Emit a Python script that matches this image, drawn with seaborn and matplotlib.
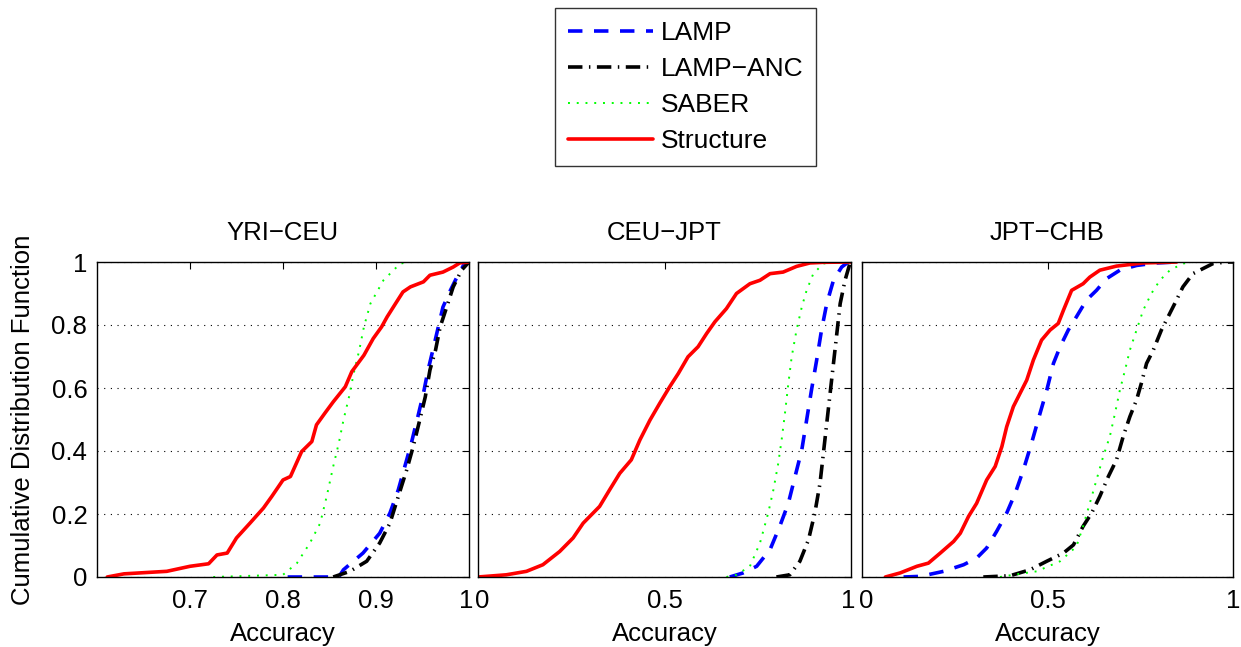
import matplotlib
matplotlib.use("Agg")
import matplotlib.pyplot as plt
import matplotlib.transforms as mtrans
import seaborn as sns
import pandas as pd
from matplotlib.lines import Line2D

# ---------------- data ----------------
panel_titles = ["YRI\u2212CEU", "CEU\u2212JPT", "JPT\u2212CHB"]
methods = ["LAMP", "LAMP\u2212ANC", "SABER", "Structure"]

# Panel 1: YRI-CEU
p1_lamp_x = [0.805, 0.86, 0.865, 0.886, 0.904, 0.915, 0.924, 0.931, 0.938, 0.945, 0.951, 0.956, 0.962, 0.967, 0.972, 0.980, 0.987, 0.994, 1.0]
p1_lamp_y = [0.0, 0.0, 0.023, 0.076, 0.139, 0.203, 0.277, 0.351, 0.425, 0.509, 0.583, 0.657, 0.731, 0.794, 0.857, 0.910, 0.952, 0.989, 1.0]
p1_anc_x = [0.854, 0.872, 0.890, 0.904, 0.915, 0.924, 0.933, 0.940, 0.947, 0.953, 0.958, 0.964, 0.969, 0.976, 0.983, 0.992, 1.0]
p1_anc_y = [0.0, 0.018, 0.050, 0.108, 0.171, 0.256, 0.340, 0.414, 0.498, 0.572, 0.657, 0.720, 0.794, 0.857, 0.921, 0.974, 1.0]
p1_saber_x = [0.725, 0.800, 0.815, 0.829, 0.840, 0.847, 0.854, 0.860, 0.865, 0.871, 0.876, 0.882, 0.887, 0.894, 0.908, 0.926, 0.937, 0.96]
p1_saber_y = [0.0, 0.007, 0.044, 0.108, 0.171, 0.256, 0.351, 0.425, 0.498, 0.572, 0.646, 0.720, 0.794, 0.868, 0.942, 0.995, 1.0, 1.0]
p1_struct_x = [0.611, 0.629, 0.675, 0.700, 0.720, 0.729, 0.740, 0.750, 0.7645, 0.779, 0.788, 0.800, 0.808, 0.820, 0.831, 0.836, 0.845, 0.854, 0.867, 0.874, 0.887, 0.897, 0.906, 0.912, 0.921, 0.929, 0.937, 0.951, 0.958, 0.972, 0.983, 0.990, 1.0]
p1_struct_y = [0.0, 0.010, 0.018, 0.034, 0.042, 0.070, 0.076, 0.124, 0.171, 0.219, 0.256, 0.308, 0.319, 0.398, 0.430, 0.483, 0.520, 0.556, 0.604, 0.652, 0.704, 0.757, 0.794, 0.826, 0.868, 0.905, 0.921, 0.937, 0.958, 0.968, 0.984, 0.997, 1.0]

# Panel 2: CEU-JPT
p2_lamp_x = [0.675, 0.711, 0.747, 0.783, 0.809, 0.832, 0.850, 0.868, 0.881, 0.894, 0.908, 0.921, 0.935, 0.953, 0.975, 0.993]
p2_lamp_y = [0.0, 0.013, 0.034, 0.087, 0.161, 0.234, 0.319, 0.403, 0.498, 0.593, 0.689, 0.784, 0.868, 0.942, 0.984, 1.0]
p2_anc_x = [0.800, 0.836, 0.863, 0.886, 0.903, 0.917, 0.926, 0.935, 0.944, 0.953, 0.962, 0.971, 0.984, 0.997, 1.0]
p2_anc_y = [0.0, 0.007, 0.050, 0.118, 0.203, 0.298, 0.393, 0.488, 0.583, 0.678, 0.773, 0.868, 0.942, 0.995, 1.0]
p2_saber_x = [0.666, 0.693, 0.729, 0.756, 0.778, 0.792, 0.805, 0.814, 0.823, 0.832, 0.841, 0.854, 0.868, 0.881, 0.899, 0.926, 0.953, 1.0]
p2_saber_y = [0.0, 0.007, 0.034, 0.108, 0.203, 0.277, 0.361, 0.435, 0.520, 0.614, 0.699, 0.784, 0.857, 0.910, 0.963, 0.995, 1.0, 1.0]
p2_struct_x = [0.0, 0.076, 0.130, 0.174, 0.219, 0.255, 0.282, 0.326, 0.353, 0.380, 0.411, 0.434, 0.461, 0.487, 0.514, 0.537, 0.563, 0.590, 0.613, 0.635, 0.666, 0.693, 0.729, 0.756, 0.783, 0.818, 0.854, 0.890, 0.926, 1.0]
p2_struct_y = [0.0, 0.007, 0.018, 0.039, 0.081, 0.124, 0.171, 0.224, 0.277, 0.329, 0.372, 0.435, 0.498, 0.551, 0.604, 0.646, 0.699, 0.731, 0.773, 0.810, 0.852, 0.900, 0.931, 0.942, 0.963, 0.968, 0.986, 0.997, 0.999, 1.0]

# Panel 3: JPT-CHB
p3_lamp_x = [0.112, 0.157, 0.220, 0.274, 0.309, 0.336, 0.363, 0.390, 0.413, 0.435, 0.457, 0.480, 0.498, 0.516, 0.534, 0.556, 0.578, 0.605, 0.632, 0.659, 0.695, 0.740, 0.794, 0.848]
p3_lamp_y = [0.0, 0.002, 0.018, 0.039, 0.060, 0.092, 0.145, 0.203, 0.266, 0.340, 0.425, 0.520, 0.593, 0.678, 0.731, 0.784, 0.826, 0.879, 0.910, 0.947, 0.974, 0.989, 0.997, 1.0]
p3_anc_x = [0.327, 0.399, 0.453, 0.498, 0.543, 0.570, 0.596, 0.619, 0.641, 0.664, 0.686, 0.704, 0.722, 0.740, 0.753, 0.767, 0.785, 0.807, 0.825, 0.843, 0.865, 0.892, 0.919, 0.946, 0.982, 1.0]
p3_anc_y = [0.0, 0.004, 0.023, 0.050, 0.076, 0.102, 0.161, 0.203, 0.256, 0.319, 0.372, 0.446, 0.509, 0.562, 0.615, 0.678, 0.720, 0.784, 0.826, 0.868, 0.921, 0.963, 0.979, 0.995, 1.0, 1.0]
p3_saber_x = [0.372, 0.408, 0.471, 0.534, 0.578, 0.596, 0.614, 0.632, 0.650, 0.668, 0.682, 0.695, 0.709, 0.722, 0.740, 0.758, 0.780, 0.803, 0.830, 0.865, 0.892]
p3_saber_y = [0.0, 0.007, 0.018, 0.050, 0.097, 0.161, 0.234, 0.308, 0.382, 0.446, 0.520, 0.593, 0.657, 0.720, 0.784, 0.847, 0.900, 0.942, 0.974, 0.995, 1.0]
p3_struct_x = [0.063, 0.103, 0.148, 0.179, 0.211, 0.247, 0.265, 0.287, 0.309, 0.336, 0.359, 0.377, 0.390, 0.408, 0.426, 0.444, 0.462, 0.484, 0.507, 0.529, 0.543, 0.565, 0.596, 0.614, 0.641, 0.686, 0.758, 0.848]
p3_struct_y = [0.0, 0.013, 0.034, 0.044, 0.076, 0.113, 0.139, 0.192, 0.234, 0.308, 0.351, 0.414, 0.477, 0.541, 0.583, 0.625, 0.689, 0.752, 0.784, 0.805, 0.847, 0.910, 0.931, 0.952, 0.974, 0.987, 0.997, 1.0]

panel_xlims = [(0.6, 1.0), (0.0, 1.0), (0.0, 1.0)]
panel_xticks = [[0.7, 0.8, 0.9, 1.0], [0.0, 0.5, 1.0], [0.0, 0.5, 1.0]]
panel_xticklabels = [["0.7", "0.8", "0.9", "1"], ["0", "0.5", "1"], ["0", "0.5", "1"]]
yticks = [0, 0.2, 0.4, 0.6, 0.8, 1.0]
yticklabels = ["0", "0.2", "0.4", "0.6", "0.8", "1"]

panels = [
    [(p1_lamp_x, p1_lamp_y), (p1_anc_x, p1_anc_y), (p1_saber_x, p1_saber_y), (p1_struct_x, p1_struct_y)],
    [(p2_lamp_x, p2_lamp_y), (p2_anc_x, p2_anc_y), (p2_saber_x, p2_saber_y), (p2_struct_x, p2_struct_y)],
    [(p3_lamp_x, p3_lamp_y), (p3_anc_x, p3_anc_y), (p3_saber_x, p3_saber_y), (p3_struct_x, p3_struct_y)],
]

# ---------------- style ----------------
sns.set_style("white")
plt.rcParams["font.family"] = ["Liberation Sans", "DejaVu Sans"]
plt.rcParams["axes.unicode_minus"] = True
plt.rcParams["text.color"] = "black"
plt.rcParams["axes.labelcolor"] = "black"
plt.rcParams["xtick.color"] = "black"
plt.rcParams["ytick.color"] = "black"

styles = {
    "LAMP": dict(color="#0000ff", lw=2.6, ls=(0, (4.0, 3.2))),
    "LAMP\u2212ANC": dict(color="#000000", lw=2.6, ls=(0, (4.0, 1.8, 0.4, 1.8))),
    "SABER": dict(color="#00ff00", lw=1.4, ls=(0, (1.0, 3.5))),
    "Structure": dict(color="#ff0000", lw=2.6, ls="-"),
}

fig = plt.figure(figsize=(12.41, 6.47), dpi=100)
lefts = [97 / 1241, 478 / 1241, 862 / 1241]
widths = [372 / 1241, 373 / 1241, 371 / 1241]
bottom = (647 - 577) / 647
height = (577 - 262) / 647

FS = 18.5
for i in range(3):
    ax = fig.add_axes([lefts[i], bottom, widths[i], height])
    for m, (xs, ys) in zip(methods, panels[i]):
        df = pd.DataFrame({"x": xs, "y": ys})
        st = styles[m]
        sns.lineplot(data=df, x="x", y="y", sort=False, estimator=None, ax=ax,
                     color=st["color"], linewidth=st["lw"], linestyle=st["ls"],
                     legend=False)
    ax.set_xlim(*panel_xlims[i])
    ax.set_ylim(0, 1)
    ax.set_xticks(panel_xticks[i])
    ax.set_xticklabels(panel_xticklabels[i], fontsize=FS, color="black")
    ax.set_yticks(yticks)
    if i == 0:
        ax.set_yticklabels(yticklabels, fontsize=FS, color="black")
        ax.set_ylabel("Cumulative Distribution Function", fontsize=FS, labelpad=12, color="black")
    else:
        ax.set_yticklabels([])
        ax.set_ylabel("")
    ax.set_xlabel("Accuracy", fontsize=FS, labelpad=6, color="black")
    ax.set_title(panel_titles[i], fontsize=FS, pad=16, color="black")
    ax.tick_params(direction="in", top=True, right=True, length=5, width=0.8,
                   color="black", labelcolor="black")
    ax.tick_params(axis="x", pad=9)
    ax.tick_params(axis="y", pad=7)
    ax.yaxis.grid(True, linestyle=(0, (1, 5)), color="black", linewidth=0.8)
    ax.xaxis.grid(False)
    for sp in ax.spines.values():
        sp.set_color("black")
        sp.set_linewidth(1.0)
    # nudge edge labels apart so adjacent panels' "1" and "0" do not collide
    labels = ax.get_xticklabels()
    if i < 2:
        lab = labels[-1]
        lab.set_transform(lab.get_transform() + mtrans.ScaledTranslation(-3 / 100, 0, fig.dpi_scale_trans))
    if i > 0:
        lab = labels[0]
        lab.set_transform(lab.get_transform() + mtrans.ScaledTranslation(4 / 100, 0, fig.dpi_scale_trans))

handles = [Line2D([0], [0], color=styles[m]["color"], lw=styles[m]["lw"], ls=styles[m]["ls"]) for m in methods]
leg = fig.legend(handles, methods, loc="upper left", bbox_to_anchor=(555 / 1241, 1 - 8 / 647),
                 fontsize=19, frameon=True, fancybox=False, edgecolor="black",
                 handlelength=3.2, borderpad=0.5, labelspacing=0.45, handletextpad=0.3,
                 borderaxespad=0.0, labelcolor="black")
leg.get_frame().set_linewidth(1.0)

fig.savefig("out.png", dpi=100, facecolor="white")
